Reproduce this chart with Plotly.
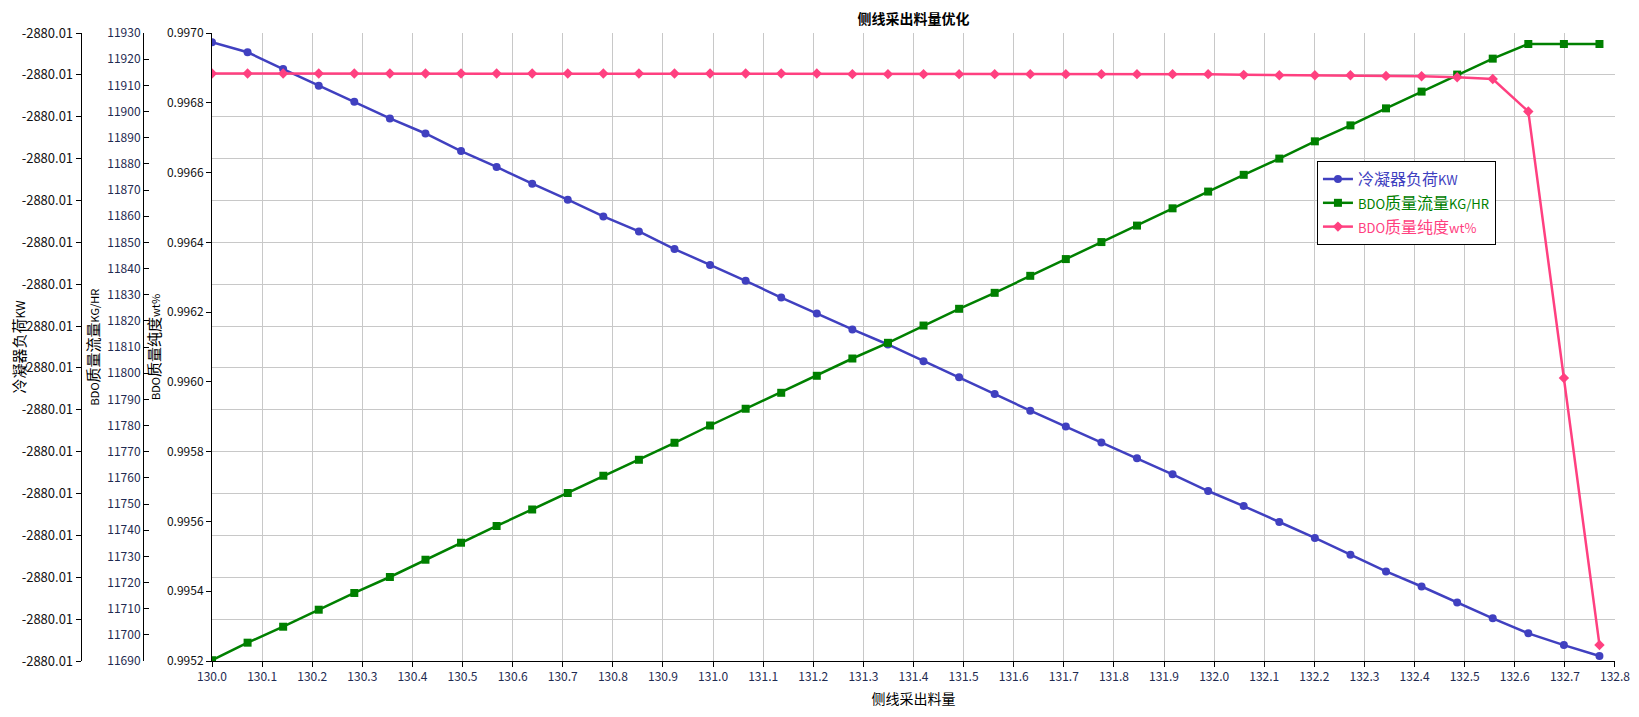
import plotly.graph_objects as go

# side draw rate, 40 cases
side_draw = [round(130.0 + i * 0.071, 3) for i in range(40)]

condenser_kw = [
    -2880.00711, -2880.00723, -2880.00743, -2880.00763, -2880.00782,
    -2880.00802, -2880.00820, -2880.00841, -2880.00860, -2880.00880,
    -2880.00899, -2880.00919, -2880.00937, -2880.00958, -2880.00977,
    -2880.00996, -2880.01016, -2880.01035, -2880.01054, -2880.01072,
    -2880.01092, -2880.01111, -2880.01131, -2880.01151, -2880.01170,
    -2880.01189, -2880.01208, -2880.01227, -2880.01247, -2880.01265,
    -2880.01284, -2880.01303, -2880.01323, -2880.01343, -2880.01361,
    -2880.01380, -2880.01399, -2880.01417, -2880.01431, -2880.01444,
]

bdo_flow = [
    11690.3, 11697.0, 11703.1, 11709.6, 11716.0, 11722.1, 11728.7, 11735.2,
    11741.6, 11747.9, 11754.2, 11760.8, 11766.9, 11773.4, 11780.0, 11786.4,
    11792.5, 11799.0, 11805.6, 11811.6, 11818.2, 11824.6, 11830.7, 11837.2,
    11843.6, 11850.1, 11856.4, 11863.0, 11869.4, 11875.8, 11882.0, 11888.6,
    11894.7, 11901.2, 11907.6, 11914.1, 11920.2, 11925.8, 11925.8, 11925.8,
]

bdo_purity = [
    0.996884, 0.996884, 0.996884, 0.996884, 0.996884, 0.996884, 0.996884,
    0.996884, 0.996884, 0.996884, 0.996884, 0.996884, 0.996884, 0.996884,
    0.996884, 0.996884, 0.996884, 0.996884, 0.996882, 0.996882, 0.996882,
    0.996882, 0.996882, 0.996882, 0.996882, 0.996882, 0.996882, 0.996882,
    0.996882, 0.996880, 0.996879, 0.996879, 0.996879, 0.996877, 0.996876,
    0.996873, 0.996868, 0.996775, 0.996011, 0.995246,
]

# condenser axis: 16 ticks, all shown as -2880.01 (tiny variation)
kw_ticks = [-2880.0145 + k * 0.0005 for k in range(16)]
kw_tick_labels = ['-2880.01'] * 16

BLUE = '#4040c0'
GREEN = '#008000'
PINK = '#ff4080'
FONT = 'Noto Sans CJK SC'

fig = go.Figure()


def small(s):
    return f'<span style="font-size:13px">{s}</span>'


fig.add_trace(go.Scatter(
    x=side_draw, y=condenser_kw, yaxis='y',
    name=f'<span style="color:{BLUE}">冷凝器负荷{small("KW")}</span>',
    mode='lines+markers',
    line=dict(color=BLUE, width=2.5),
    marker=dict(symbol='circle', size=8, color=BLUE)
))

fig.add_trace(go.Scatter(
    x=side_draw, y=bdo_flow, yaxis='y2',
    name=f'<span style="color:{GREEN}">{small("BDO")}质量流量{small("KG/HR")}</span>',
    mode='lines+markers',
    line=dict(color=GREEN, width=2.5),
    marker=dict(symbol='square', size=8, color=GREEN)
))

fig.add_trace(go.Scatter(
    x=side_draw, y=bdo_purity, yaxis='y3',
    name=f'<span style="color:{PINK}">{small("BDO")}质量纯度{small("wt%")}</span>',
    mode='lines+markers',
    line=dict(color=PINK, width=2.5),
    marker=dict(symbol='diamond', size=8, color=PINK)
))


def axis_style(label_color='#111', size=12, ticks='outside'):
    return dict(
        showline=True, linecolor='black', linewidth=1,
        ticks=ticks, ticklen=5, tickcolor='black',
        tickfont=dict(size=size, color=label_color, family=FONT),
        zeroline=False, automargin=False,
    )


# page body has an 8px margin, so the figure is 16px smaller than the window
fig.update_layout(
    width=1623, height=701,
    paper_bgcolor='white', plot_bgcolor='white',
    font=dict(family=FONT, color='black'),
    margin=dict(l=2, r=16, t=25, b=48),
    showlegend=True,
    title=dict(
        text='<b>侧线采出料量优化</b>',
        x=0.5629, xref='paper', xanchor='center',
        y=0.991, yref='container', yanchor='top',
        font=dict(size=14, color='black', family=FONT)
    ),
    xaxis=dict(
        domain=[0.12586, 1.0],
        range=[130.0, 132.8],
        dtick=0.1, tickformat='.1f',
        ticklabeloverflow='allow',
        showgrid=True, gridcolor='#c8c8c8', gridwidth=1,
        title=dict(text='侧线采出料量', font=dict(size=14, family=FONT), standoff=10),
        anchor='y3',
        **axis_style('#1e2a50')
    ),
    yaxis=dict(
        range=[-2880.0145, -2880.0070],
        tickmode='array', tickvals=kw_ticks, ticktext=kw_tick_labels,
        showgrid=True, gridcolor='#c8c8c8', gridwidth=1,
        anchor='free', position=0.04405,
        title=dict(text='<span style="font-size:15px">冷凝器负荷</span>KW',
                   font=dict(size=12, family=FONT), standoff=8),
        **axis_style(size=13)
    ),
    yaxis2=dict(
        range=[11690, 11930], dtick=10, tickformat='d',
        showgrid=False,
        overlaying='y', anchor='free', position=0.08287, side='left',
        title=dict(text='BDO<span style="font-size:15px">质量流量</span>KG/HR',
                   font=dict(size=11, family=FONT), standoff=4),
        **axis_style('#1e2a50', ticks='inside')
    ),
    yaxis3=dict(
        range=[0.9952, 0.9970], dtick=0.0002, tickformat='.4f',
        showgrid=False,
        overlaying='y', anchor='x', side='left',
        title=dict(text='BDO<span style="font-size:15px">质量纯度</span>wt%',
                   font=dict(size=11, family=FONT), standoff=4),
        **axis_style()
    ),
    legend=dict(
        x=0.8143, y=0.796, xanchor='left', yanchor='top',
        bgcolor='white', bordercolor='black', borderwidth=1,
        font=dict(size=16, family=FONT),
        tracegroupgap=0, itemwidth=30,
    ),
)

fig.write_html("out.html")
